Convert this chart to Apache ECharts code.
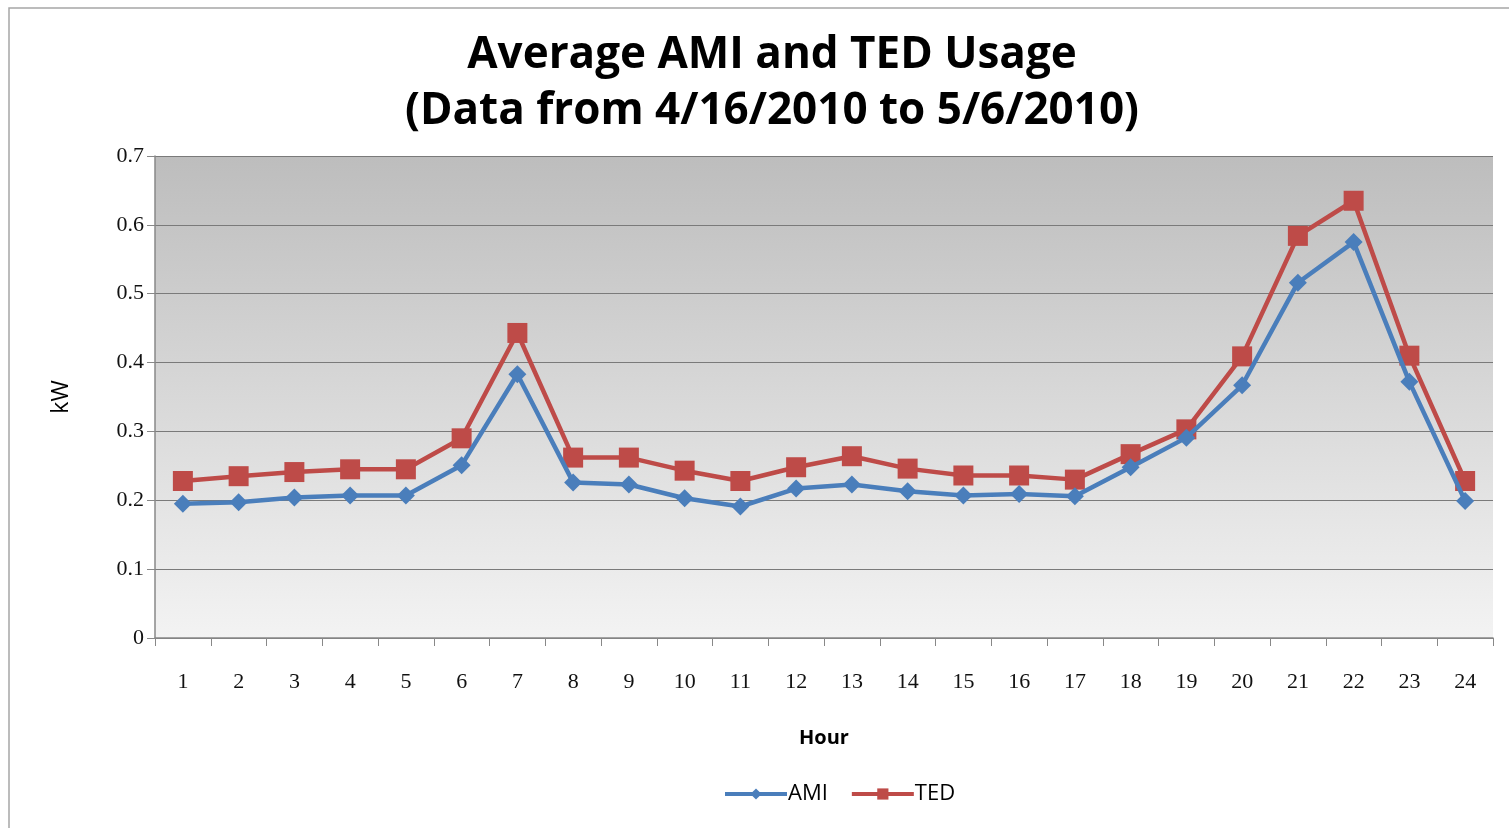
<!DOCTYPE html>
<html><head><meta charset="utf-8">
<script src="https://cdn.jsdelivr.net/npm/echarts@6/dist/echarts.min.js"></script>
<style>html,body{margin:0;padding:0;background:#fff}#c{width:1509px;height:828px}</style>
</head><body><div id="c"></div>
<script>
const hours = ['1','2','3','4','5','6','7','8','9','10','11','12','13','14','15','16','17','18','19','20','21','22','23','24'];
const ami = [0.195,0.197,0.204,0.207,0.207,0.251,0.383,0.226,0.223,0.203,0.191,0.217,0.223,0.213,0.207,0.209,0.206,0.248,0.291,0.367,0.516,0.575,0.372,0.199];
const ted = [0.228,0.235,0.241,0.245,0.245,0.290,0.443,0.262,0.262,0.243,0.228,0.248,0.264,0.246,0.236,0.236,0.230,0.267,0.303,0.409,0.584,0.635,0.410,0.228];
const yTicks = [0,0.1,0.2,0.3,0.4,0.5,0.6,0.7];

const chart = echarts.init(document.getElementById('c'));
const serif = '"Liberation Serif","DejaVu Serif",serif';
const sans = '"Open Sans","Liberation Sans",sans-serif';
chart.setOption({
  animation:false,
  backgroundColor:'#fff',
  graphic:[{type:'rect',shape:{x:9,y:8,width:1510,height:830},style:{fill:null,stroke:'#a6a6a6',lineWidth:1.5},silent:true}],
  title:{
    text:'Average AMI and TED Usage\n(Data from 4/16/2010 to 5/6/2010)',
    left:767, top:22, textAlign:'center',
    textStyle:{fontFamily:sans,fontWeight:'bold',fontSize:44,color:'#000',lineHeight:56}
  },
  legend:{
    data:['AMI','TED'], top:778, left:718, itemWidth:62, itemHeight:14, itemGap:22,
    lineStyle:{width:4},
    textStyle:{fontFamily:sans,fontSize:22,color:'#000',padding:[0,0,0,-4]}
  },
  grid:{left:155,right:16,top:156,bottom:190,show:true,borderWidth:0,
    backgroundColor:new echarts.graphic.LinearGradient(0,0,0,1,[{offset:0,color:'#bdbdbd'},{offset:1,color:'#f3f3f3'}])},
  xAxis:{
    type:'category',data:hours,boundaryGap:true,
    name:'Hour',nameLocation:'middle',nameGap:90,
    nameTextStyle:{fontFamily:sans,fontWeight:'bold',fontSize:20,color:'#000'},
    axisLine:{lineStyle:{color:'#888',width:1.5}},
    axisTick:{show:true,length:8,lineStyle:{color:'#888'}},
    axisLabel:{fontFamily:serif,fontSize:22,color:'#111',margin:33}
  },
  yAxis:{
    type:'value',min:0,max:0.7,interval:0.1,
    name:'kW',nameLocation:'middle',nameGap:82,nameRotate:90,
    nameTextStyle:{fontFamily:sans,fontSize:23,color:'#000'},
    axisLine:{show:true,lineStyle:{color:'#888',width:1.5}},
    axisTick:{show:true,length:8,lineStyle:{color:'#888'}},
    axisLabel:{fontFamily:serif,fontSize:22,color:'#111',margin:11,formatter:v=>String(Math.round(v*10)/10)},
    splitLine:{show:true,lineStyle:{color:'#7a7a7a',width:1.2}}
  },
  series:[
    {name:'AMI',type:'line',data:ami,symbol:'diamond',symbolSize:18,
     lineStyle:{color:'#4a7ebb',width:4.5},itemStyle:{color:'#4a7ebb'},z:3},
    {name:'TED',type:'line',data:ted,symbol:'rect',symbolSize:20,
     lineStyle:{color:'#be4b48',width:4.5},itemStyle:{color:'#be4b48'},z:2}
  ]
});
</script></body></html>
